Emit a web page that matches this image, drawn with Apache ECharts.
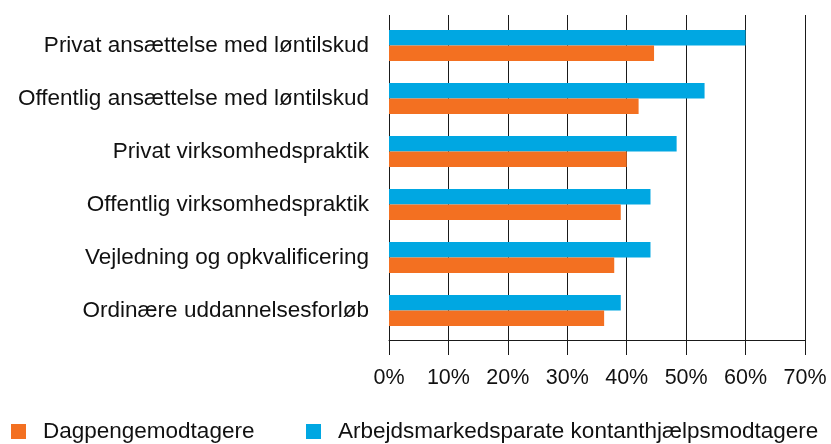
<!DOCTYPE html>
<html><head><meta charset="utf-8">
<script src="https://cdn.jsdelivr.net/npm/echarts@6/dist/echarts.min.js"></script>
<style>html,body{margin:0;padding:0;background:#fff}#c{width:831px;height:444px}</style>
</head><body><div id="c"></div>
<script>
const categories = ["Privat ansættelse med løntilskud","Offentlig ansættelse med løntilskud","Privat virksomhedspraktik","Offentlig virksomhedspraktik","Vejledning og opkvalificering","Ordinære uddannelsesforløb"];
const dagpenge = [44.6, 42.0, 40.0, 39.0, 37.9, 36.2];
const kontant = [60.0, 53.1, 48.4, 44.0, 44.0, 39.0];
const seriesNames = ["Dagpengemodtagere","Arbejdsmarkedsparate kontanthjælpsmodtagere"];
const xTicks = {min:0, max:70, interval:10};

const FONT = "Liberation Sans";
const FS = 22.5;
const chart = echarts.init(document.getElementById('c'), null, {renderer:'canvas'});
chart.setOption({
  animation:false,
  textStyle:{fontFamily:FONT},
  grid:[
    {left:389, right:26, top:15, bottom:104},
    {left:389, right:26, top:19, bottom:107}
  ],
  xAxis:[
    {gridIndex:0, type:'value', min:xTicks.min, max:xTicks.max, interval:xTicks.interval,
     axisLine:{show:true, lineStyle:{color:'#1a1a1a', width:1}},
     axisTick:{show:true, length:15, lineStyle:{color:'#1a1a1a'}},
     splitLine:{show:true, lineStyle:{color:'#1a1a1a', width:1}},
     axisLabel:{formatter:'{value}%', fontSize:21.5, color:'#111', margin:27.5, fontFamily:FONT}},
    {gridIndex:1, type:'value', min:xTicks.min, max:xTicks.max, show:false}
  ],
  yAxis:[
    {gridIndex:0, type:'value', show:false},
    {gridIndex:1, type:'category', inverse:true, data:categories,
     axisLine:{show:false}, axisTick:{show:false},
     axisLabel:{fontSize:FS, color:'#111', margin:20, fontFamily:FONT}}
  ],
  legend:[
    {data:[seriesNames[0]], left:11, top:420, padding:0, icon:'rect', itemWidth:15, itemHeight:15,
     textStyle:{fontSize:FS, color:'#111', fontFamily:FONT, padding:[0,0,0,12]}},
    {data:[seriesNames[1]], left:306, top:420, padding:0, icon:'rect', itemWidth:15, itemHeight:15,
     textStyle:{fontSize:FS, color:'#111', fontFamily:FONT, padding:[0,0,0,12]}}
  ],
  series:[
    {name:seriesNames[1], type:'bar', xAxisIndex:1, yAxisIndex:1, data:kontant,
     barWidth:15.5, barGap:'0%', itemStyle:{color:'#00A7E2'}},
    {name:seriesNames[0], type:'bar', xAxisIndex:1, yAxisIndex:1, data:dagpenge,
     barWidth:15.5, barGap:'0%', itemStyle:{color:'#F37021'}}
  ]
});
</script></body></html>
